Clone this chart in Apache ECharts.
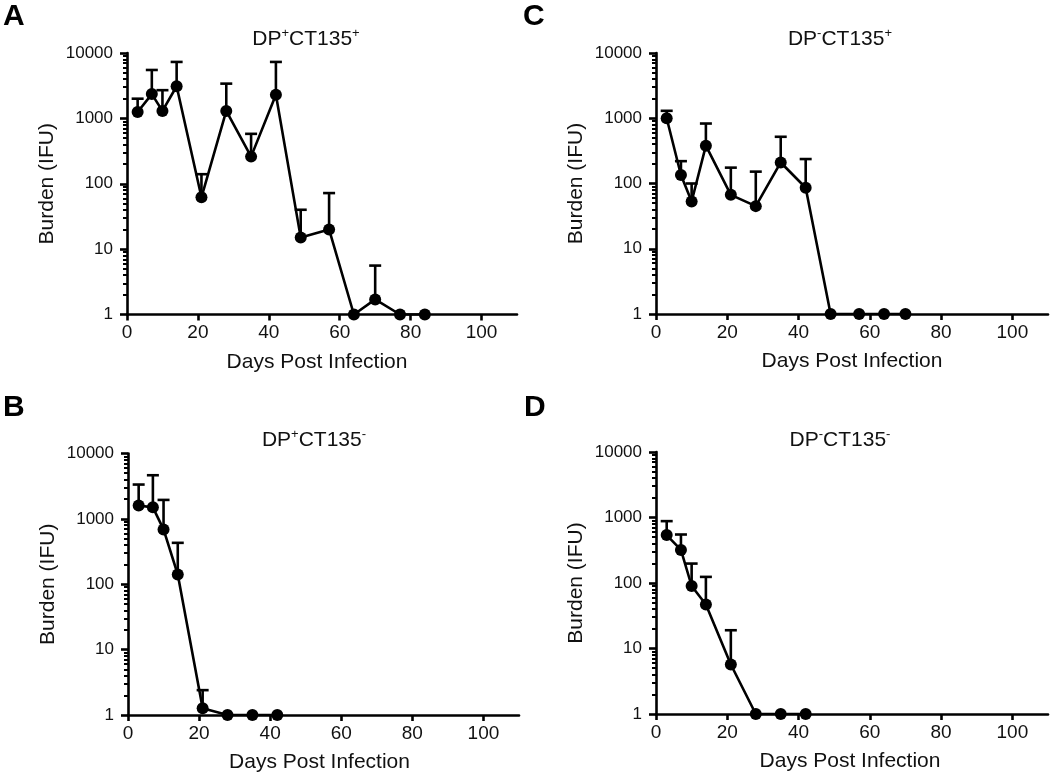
<!DOCTYPE html>
<html><head><meta charset="utf-8">
<script src="https://cdn.jsdelivr.net/npm/echarts@6/dist/echarts.min.js"></script>
<style>html,body{margin:0;padding:0;background:#fff}#c{width:1050px;height:775px}</style>
</head><body><div id="c"></div>
<script>
// ---- tick labels ----
const xTicks = [0, 20, 40, 60, 80, 100];
const yTicks = [1, 10, 100, 1000, 10000];
const minorMult = [2, 3, 4, 5, 6, 7, 8, 9];
const xName = 'Days Post Infection';
const yName = 'Burden (IFU)';

// ---- panel A: DP+CT135+ ----
const daysA  = [3, 7, 10, 14, 21, 28, 35, 42, 49, 57, 64, 70, 77, 84];
const meanA  = [1250, 2350, 1300, 3100, 62, 1300, 260, 2300, 15, 20, 1, 1.7, 1, 1];
const upperA = [2000, 5500, 2700, 7300, 140, 3400, 580, 7300, 40, 72, null, 5.6, null, null];
// ---- panel B: DP+CT135- ----
const daysB  = [3, 7, 10, 14, 21, 28, 35, 42];
const meanB  = [1600, 1500, 690, 141, 1.27, 1, 1, 1];
const upperB = [3350, 4650, 1950, 430, 2.4, null, null, null];
// ---- panel C: DP-CT135+ ----
const daysC  = [3, 7, 10, 14, 21, 28, 35, 42, 49, 57, 64, 70];
const meanC  = [1000, 135, 53, 380, 67, 45, 210, 86, 1, 1, 1, 1];
const upperC = [1300, 220, 100, 830, 175, 152, 520, 237, null, null, null, null];
// ---- panel D: DP-CT135- ----
const daysD  = [3, 7, 10, 14, 21, 28, 35, 42];
const meanD  = [540, 320, 90, 47, 5.7, 1, 1, 1];
const upperD = [880, 550, 198, 124, 19, null, null, null];

const letters = ['A', 'B', 'C', 'D'];
const dpSigns = ['+', '+', '-', '-'];
const ctSigns = ['+', '-', '+', '-'];

// ---- layout (positions / styles only) ----
const FONT = '"Liberation Sans", Arial, Helvetica, sans-serif';
const INK = '#111';
const layout = [
  { grid: { left: 127, top: 53, width: 390, height: 261.5 }, title: [306, 39], letter: [3, 17], xNameShift: 10 },
  { grid: { left: 128, top: 453.5, width: 391, height: 261.5 }, title: [314, 440], letter: [3, 408], xNameShift: 8 },
  { grid: { left: 656, top: 53, width: 392, height: 261 }, title: [840, 39], letter: [523, 17], xNameShift: 0 },
  { grid: { left: 656, top: 452, width: 392, height: 262 }, title: [840, 440], letter: [524, 408], xNameShift: 4 }
];

const panels = [
  { days: daysA, mean: meanA, upper: upperA },
  { days: daysB, mean: meanB, upper: upperB },
  { days: daysC, mean: meanC, upper: upperC },
  { days: daysD, mean: meanD, upper: upperD }
];

const minorValues = [];
yTicks.slice(0, -1).forEach(function (base) { minorMult.forEach(function (m) { minorValues.push(base * m); }); });

const axisLineStyle = { color: '#000', width: 2.6 };
const grids = [], xAxes = [], yAxes = [], yMinor = [], series = [], graphics = [];

panels.forEach(function (p, i) {
  const L = layout[i];
  grids.push(Object.assign({ containLabel: false }, L.grid));
  xAxes.push({
    gridIndex: i, type: 'value', min: 0, max: 110,
    axisLine: { show: true, onZero: false, lineStyle: axisLineStyle },
    axisTick: { show: true, customValues: xTicks, length: 6, lineStyle: axisLineStyle },
    axisLabel: { show: true, customValues: xTicks, margin: 9, fontSize: 19, color: INK, fontFamily: FONT },
    splitLine: { show: false },
    name: xName, nameLocation: 'middle', nameGap: 37,
    nameTextStyle: { fontSize: 21, color: INK, fontFamily: FONT, padding: [0, L.xNameShift, 0, 0] }
  });
  yAxes.push({
    gridIndex: i, type: 'log', logBase: 10, min: 1, max: 10000, position: 'left',
    axisLine: { show: true, lineStyle: axisLineStyle },
    axisTick: { show: true, customValues: yTicks, length: 7, lineStyle: axisLineStyle },
    axisLabel: { show: true, customValues: yTicks, margin: 14, fontSize: 17, color: INK, fontFamily: FONT,
      formatter: function (v) { return String(Math.round(v)); } },
    splitLine: { show: false }, minorTick: { show: false },
    name: yName, nameLocation: 'middle', nameGap: 69,
    nameTextStyle: { fontSize: 21, color: INK, fontFamily: FONT }
  });
  yMinor.push({
    gridIndex: i, type: 'log', logBase: 10, min: 1, max: 10000, position: 'left',
    axisLine: { show: false },
    axisTick: { show: true, customValues: minorValues, length: 4, lineStyle: { color: '#000', width: 2 } },
    axisLabel: { show: false }, splitLine: { show: false }
  });

  const errData = [];
  p.days.forEach(function (d, j) { if (p.upper[j] != null) errData.push([d, p.mean[j], p.upper[j]]); });
  series.push({
    type: 'custom', xAxisIndex: i, yAxisIndex: i, z: 2, animation: false, silent: true,
    encode: { x: 0, y: [1, 2] },
    data: errData,
    renderItem: function (params, api) {
      const a = api.coord([api.value(0), api.value(1)]);
      const b = api.coord([api.value(0), api.value(2)]);
      const st = { stroke: '#000', lineWidth: 2.6 };
      return { type: 'group', children: [
        { type: 'line', shape: { x1: a[0], y1: a[1], x2: b[0], y2: b[1] }, style: st },
        { type: 'line', shape: { x1: b[0] - 6, y1: b[1], x2: b[0] + 6, y2: b[1] }, style: st }
      ] };
    }
  });
  series.push({
    type: 'line', xAxisIndex: i, yAxisIndex: i, z: 3, animation: false,
    data: p.days.map(function (d, j) { return [d, p.mean[j]]; }),
    symbol: 'circle', symbolSize: 12, showSymbol: true,
    lineStyle: { color: '#000', width: 2.6 }, itemStyle: { color: '#000' }
  });

  graphics.push({
    type: 'text', x: L.title[0], y: L.title[1],
    style: {
      text: '{m|DP}{s|' + dpSigns[i] + '}{m|CT135}{s|' + ctSigns[i] + '}',
      rich: {
        m: { fontSize: 21, fontFamily: FONT, fill: INK, lineHeight: 24 },
        s: { fontSize: 13, fontFamily: FONT, fill: INK, lineHeight: 13, verticalAlign: 'top' }
      },
      align: 'center', verticalAlign: 'middle'
    }
  });
  graphics.push({
    type: 'text', x: L.letter[0], y: L.letter[1],
    style: { text: letters[i], fontSize: 30, fontWeight: 'bold', fontFamily: FONT, fill: '#000',
      align: 'left', verticalAlign: 'middle' }
  });
});

const chart = echarts.init(document.getElementById('c'), null, { renderer: 'canvas' });
chart.setOption({
  animation: false,
  backgroundColor: '#fff',
  grid: grids,
  xAxis: xAxes,
  yAxis: yAxes.concat(yMinor),
  series: series,
  graphic: graphics
});
</script>
</body></html>
